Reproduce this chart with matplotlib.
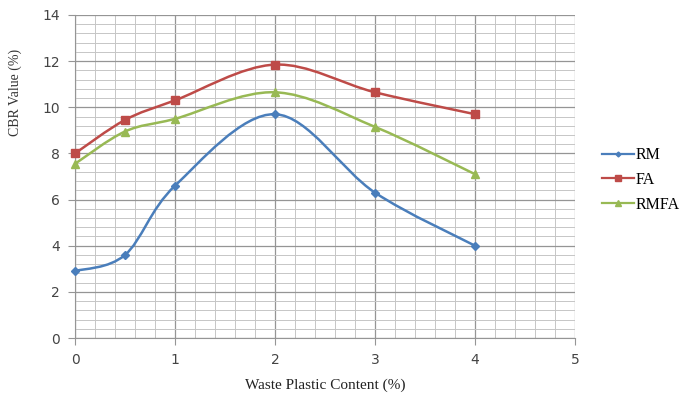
import numpy as np
import matplotlib
matplotlib.use("Agg")
import matplotlib.pyplot as plt
from matplotlib.path import Path
from matplotlib.patches import PathPatch
from matplotlib.lines import Line2D
from matplotlib.ticker import MultipleLocator

plastic = [0, 0.5, 1, 2, 3, 4]
rm = [2.9, 3.6, 6.6, 9.7, 6.3, 4.0]
fa = [8.0, 9.45, 10.3, 11.85, 10.65, 9.7]
rmfa = [7.55, 8.95, 9.5, 10.65, 9.15, 7.1]

series = [
    ("RM", rm, "#4A7EBB", "D", 4),
    ("FA", fa, "#BE4B48", "s", 6),
    ("RMFA", rmfa, "#98B954", "^", 6),
]


def smooth_path(x, y):
    """Cubic Bezier path through the points (Catmull-Rom style smoothing)."""
    pts = np.column_stack([x, y]).astype(float)
    n = len(pts)
    verts = [pts[0]]
    codes = [Path.MOVETO]
    for i in range(n - 1):
        p0 = pts[i - 1] if i > 0 else pts[i]
        p1 = pts[i]
        p2 = pts[i + 1]
        p3 = pts[i + 2] if i + 2 < n else pts[i + 1]
        c1 = p1 + (p2 - p0) / 6.0
        c2 = p2 - (p3 - p1) / 6.0
        verts += [c1, c2, p2]
        codes += [Path.CURVE4] * 3
    return Path(verts, codes)


fig = plt.figure(figsize=(6.89, 3.99), dpi=100)
ax = fig.add_axes([75 / 689, 1 - 338 / 399, 500 / 689, 323 / 399])

ax.set_xlim(0, 5)
ax.set_ylim(0, 14)
ax.xaxis.set_major_locator(MultipleLocator(1))
ax.xaxis.set_minor_locator(MultipleLocator(0.2))
ax.yaxis.set_major_locator(MultipleLocator(2))
ax.yaxis.set_minor_locator(MultipleLocator(0.4))
ax.grid(which="major", color="#959595", linewidth=0.9)
ax.grid(which="minor", color="#c6c6c6", linewidth=0.7)
ax.set_axisbelow(True)

for side in ["top", "right"]:
    ax.spines[side].set_visible(False)
for side in ["left", "bottom"]:
    ax.spines[side].set_color("#959595")
ax.tick_params(which="major", direction="out", length=5, color="#959595",
               labelsize=10, labelcolor="#444444", pad=6)
ax.tick_params(which="minor", length=0)

handles = []
for name, vals, color, marker, ms in series:
    patch = PathPatch(smooth_path(plastic, vals), facecolor="none",
                      edgecolor=color, linewidth=1.8, zorder=3)
    ax.add_patch(patch)
    ax.plot(plastic, vals, linestyle="none", marker=marker, markersize=ms,
            color=color, zorder=4, clip_on=False)
    handles.append(Line2D([], [], color=color, linewidth=1.6, marker=marker,
                          markersize=ms - 1.5, label=name))

ax.set_xlabel("Waste Plastic Content (%)", family="Liberation Serif",
              fontsize=11, color="#222222", labelpad=8)
ax.set_ylabel("CBR Value (%)", family="Liberation Serif", fontsize=10,
              color="#333333")
ax.yaxis.set_label_coords(-0.105, 0.76)

fig.legend(handles=handles, loc="center left", bbox_to_anchor=(588 / 689, 1 - 180 / 399),
           frameon=False, prop={"family": "Liberation Serif", "size": 11.5},
           handlelength=2.0, handletextpad=0.1, labelspacing=0.55)

fig.savefig("out.png", dpi=100)
